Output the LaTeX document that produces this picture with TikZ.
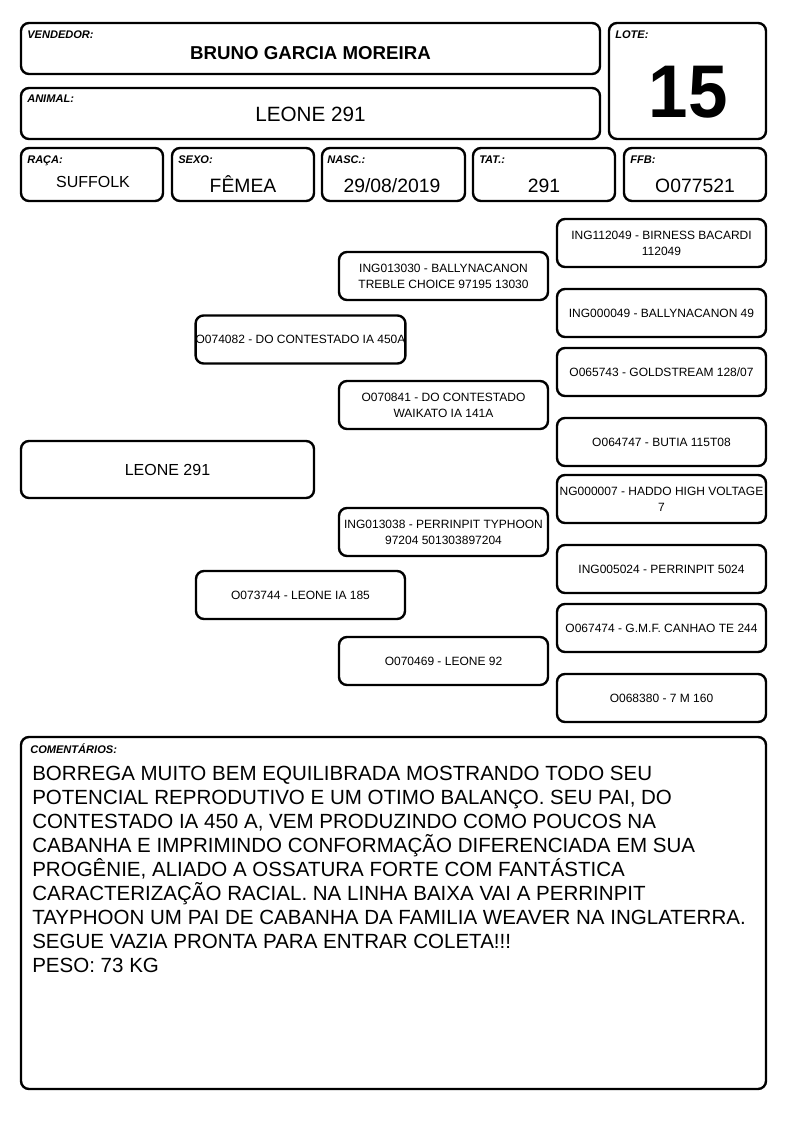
\documentclass[tikz,border=0pt]{standalone}
\usepackage{fontspec}
\setmainfont{Liberation Sans}
\begin{document}
\begin{tikzpicture}[x=0.75pt,y=-0.75pt,
  box/.style={draw, line width=1.8pt, rounded corners=6pt, inner sep=0pt},
  lbl/.style={font=\fontsize{8.3}{9}\selectfont\bfseries\itshape, anchor=base west, inner sep=0pt},
  val/.style={font=\fontsize{14.5}{16}\selectfont, anchor=base, inner sep=0pt},
  ped/.style={box, minimum width=156.75pt, minimum height=36pt, align=center, font=\fontsize{9}{12}\selectfont},
]
\useasboundingbox (0,0) rectangle (794,1123);

% header boxes
\node[box, minimum width=579*0.75pt, minimum height=51*0.75pt] (vend) at (310.5,48.5) {};
\node[lbl] (vendl) at (27,39) {VENDEDOR:};
\node[anchor=base, inner sep=0pt, font=\fontsize{14}{16}\selectfont\bfseries] (vendv) at (310.5,60) {BRUNO GARCIA MOREIRA};

\node[box, minimum width=579*0.75pt, minimum height=51*0.75pt] (anim) at (310.5,113.5) {};
\node[lbl] (animl) at (27,102.5) {ANIMAL:};
\node[anchor=base, inner sep=0pt, font=\fontsize{15.5}{17}\selectfont] (animv) at (310.5,122) {LEONE 291};

\node[box, minimum width=157*0.75pt, minimum height=116*0.75pt] (lote) at (687.5,81) {};
\node[lbl] (lotel) at (615,39) {LOTE:};
\node[anchor=base, inner sep=0pt, font=\fontsize{56}{60}\selectfont\bfseries, xscale=0.95] (lotev) at (688,118) {15};

% row of data boxes
\node[box, minimum width=142*0.75pt, minimum height=53*0.75pt] (raca) at (92,174.5) {};
\node[lbl] (racal) at (27,164) {RAÇA:};
\node[val, font=\fontsize{12}{14}\selectfont] (racav) at (93,188) {SUFFOLK};

\node[box, minimum width=142*0.75pt, minimum height=53*0.75pt] (sexo) at (243,174.5) {};
\node[lbl] (sexol) at (178,164) {SEXO:};
\node[val] (sexov) at (243,192.5) {FÊMEA};

\node[box, minimum width=143*0.75pt, minimum height=53*0.75pt] (nasc) at (393.5,174.5) {};
\node[lbl] (nascl) at (327,164) {NASC.:};
\node[val] (nascv) at (392,192.5) {29/08/2019};

\node[box, minimum width=142*0.75pt, minimum height=53*0.75pt] (tat) at (544,174.5) {};
\node[lbl] (tatl) at (479,164) {TAT.:};
\node[val] (tatv) at (544,192.5) {291};

\node[box, minimum width=142*0.75pt, minimum height=53*0.75pt] (ffb) at (695,174.5) {};
\node[lbl] (ffbl) at (630,164) {FFB:};
\node[val] (ffbv) at (695,192.5) {O077521};

% pedigree
\node[box, minimum width=293*0.75pt, minimum height=57*0.75pt, font=\fontsize{12}{14}\selectfont] (an) at (167.5,469.5) {LEONE 291};

\node[ped] (p) at (300.5,339.5) {O074082 - DO CONTESTADO IA 450A};
\node[ped] (m) at (300.5,595) {O073744 - LEONE IA 185};

\node[ped] (pp) at (443.5,276) {ING013030 - BALLYNACANON\\TREBLE CHOICE 97195 13030};
\node[ped] (pm) at (443.5,405) {O070841 - DO CONTESTADO\\WAIKATO IA 141A};
\node[ped] (mp) at (443.5,532) {ING013038 - PERRINPIT TYPHOON\\97204 501303897204};
\node[ped] (mm) at (443.5,661) {O070469 - LEONE 92};

\node[ped] (ppp) at (661.5,243) {ING112049 - BIRNESS BACARDI\\112049};
\node[ped] (ppm) at (661.5,313) {ING000049 - BALLYNACANON 49};
\node[ped] (pmp) at (661.5,372) {O065743 - GOLDSTREAM 128/07};
\node[ped] (pmm) at (661.5,442) {O064747 - BUTIA 115T08};
\node[ped] (mpp) at (661.5,499) {NG000007 - HADDO HIGH VOLTAGE\\7};
\node[ped] (mpm) at (661.5,569) {ING005024 - PERRINPIT 5024};
\node[ped] (mmp) at (661.5,628) {O067474 - G.M.F. CANHAO TE 244};
\node[ped] (mmm) at (661.5,698) {O068380 - 7 M 160};

% comments
\node[box, minimum width=745*0.75pt, minimum height=352*0.75pt] (com) at (393.5,913) {};
\node[lbl] (coml) at (30,753) {COMENTÁRIOS:};
\node[anchor=base west, inner sep=0pt, font=\fontsize{15.4}{18}\selectfont] (comt) at (32,780)
 {\parbox[t]{555pt}{BORREGA MUITO BEM EQUILIBRADA MOSTRANDO TODO SEU\\
POTENCIAL REPRODUTIVO E UM OTIMO BALANÇO. SEU PAI, DO\\
CONTESTADO IA 450 A, VEM PRODUZINDO COMO POUCOS NA\\
CABANHA E IMPRIMINDO CONFORMAÇÃO DIFERENCIADA EM SUA\\
PROGÊNIE, ALIADO A OSSATURA FORTE COM FANTÁSTICA\\
CARACTERIZAÇÃO RACIAL. NA LINHA BAIXA VAI A PERRINPIT\\
TAYPHOON UM PAI DE CABANHA DA FAMILIA WEAVER NA INGLATERRA.\\
SEGUE VAZIA PRONTA PARA ENTRAR COLETA!!!\\
PESO: 73 KG}};
\end{tikzpicture}
\end{document}
